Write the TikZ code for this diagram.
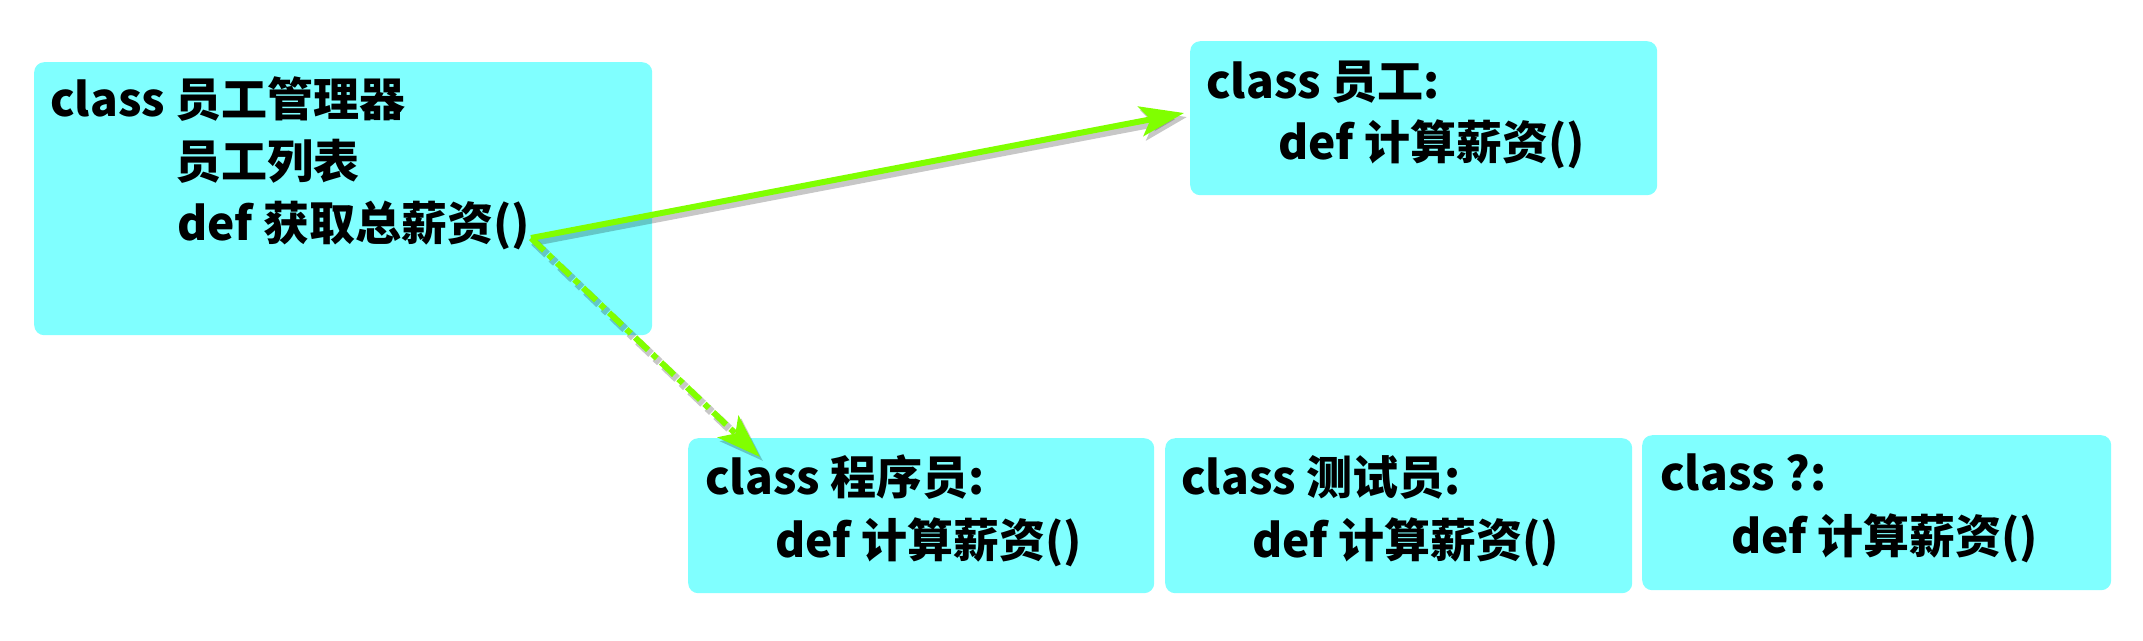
\documentclass[tikz,border=0pt]{standalone}
\usepackage{fontspec}
\setmainfont{Noto Sans CJK SC}
\usetikzlibrary{arrows.meta}
\definecolor{boxcyan}{RGB}{128,255,255}
\definecolor{arrgreen}{RGB}{128,255,0}
\tikzset{
  classbox/.style={fill=boxcyan, draw=none, rounded corners=10pt, anchor=north west, inner sep=0pt},
  code/.style={anchor=base west, inner sep=0pt, font=\fontsize{46}{55}\selectfont\bfseries},
  link/.style={draw=arrgreen, line width=6pt, -{Stealth[length=44pt,width=30pt,inset=10pt]}},
  dotlink/.style={link, dash pattern=on 18pt off 6pt on 6pt off 6pt},
  linkshadow/.style={draw=black, opacity=0.22, line width=8pt, -{Stealth[length=44pt,width=30pt,inset=10pt]}, transform canvas={xshift=3pt,yshift=-4pt}}
}
\begin{document}
\begin{tikzpicture}[x=1pt,y=-1pt]
\useasboundingbox (0,0) rectangle (2143,640);
% boxes
\node[classbox, minimum width=618pt, minimum height=273pt] (mgr) at (34,62) {};
\node[classbox, minimum width=467pt, minimum height=154pt] (emp) at (1190,41) {};
\node[classbox, minimum width=466pt, minimum height=155pt] (prog) at (688,438) {};
\node[classbox, minimum width=467pt, minimum height=155pt] (test) at (1165,438) {};
\node[classbox, minimum width=469pt, minimum height=155pt] (unk) at (1642,435) {};
% texts
\node[code] (mgr1) at (50,116) {class 员工管理器};
\node[code] (mgr2) at (175,178) {员工列表};
\node[code] (mgr3) at (177,240) {def 获取总薪资()};
\node[code] (emp1) at (1206,98) {class 员工:};
\node[code] (emp2) at (1278,159) {def 计算薪资()};
\node[code] (prog1) at (705,494) {class 程序员:};
\node[code] (prog2) at (775,557) {def 计算薪资()};
\node[code] (test1) at (1181,494) {class 测试员:};
\node[code] (test2) at (1252,557) {def 计算薪资()};
\node[code] (unk1) at (1660,490) {class ?:};
\node[code] (unk2) at (1731,553) {def 计算薪资()};
% connectors
\coordinate (src) at (531,238);
\coordinate (tipemp) at (1184,113);
\coordinate (tipprog) at (760,457);
\draw[linkshadow] (src) -- (tipemp);
\draw[linkshadow, dash pattern=on 18pt off 6pt on 6pt off 6pt] (src) -- (tipprog);
\draw[link] (src) -- (tipemp);
\draw[dotlink] (src) -- (tipprog);
\end{tikzpicture}
\end{document}
